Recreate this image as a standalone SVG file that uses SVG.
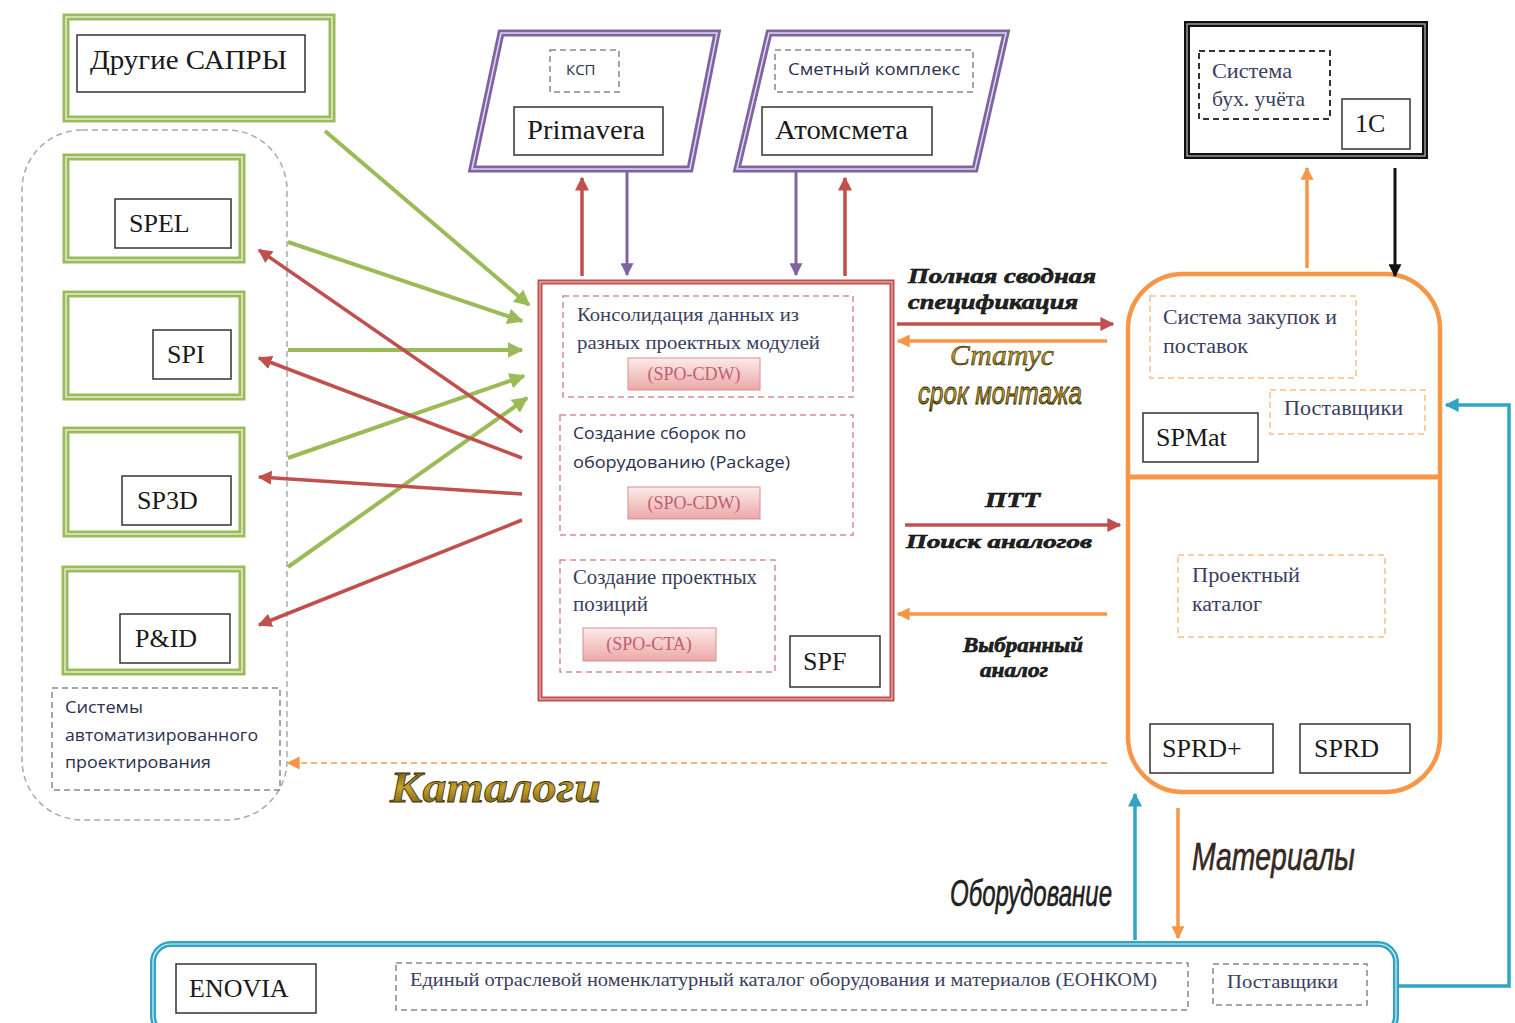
<svg xmlns="http://www.w3.org/2000/svg" width="1515" height="1023" viewBox="0 0 1515 1023">
<style>
.serif{font-family:"Liberation Serif","Times New Roman",serif;fill:#1a1a1a}
.sans{font-family:"Open Sans","Liberation Sans",sans-serif;fill:#2a3050}
.box{fill:#fff;stroke:#333;stroke-width:1.5}
.dgray{fill:none;stroke:#888;stroke-width:1.5;stroke-dasharray:6 4}
.dpink{fill:none;stroke:#d8889a;stroke-width:1.5;stroke-dasharray:6 4}
.dorange{fill:none;stroke:#f5c08a;stroke-width:1.5;stroke-dasharray:6 4}
.dblack{fill:none;stroke:#333;stroke-width:2;stroke-dasharray:6 4}
.g{stroke:#9bbb59;stroke-width:4;fill:none}
.r{stroke:#c0504d;stroke-width:3.5;fill:none}
.p{stroke:#8064a2;stroke-width:3;fill:none}
.o{stroke:#f79646;stroke-width:3.5;fill:none}
.t{stroke:#31a3c4;stroke-width:3.5;fill:none}
.k{stroke:#111;stroke-width:3;fill:none}
.lbl{font-family:"Liberation Serif",serif;font-style:italic;font-weight:bold;fill:#222;stroke:#111;stroke-width:0.6}
.btn{fill:url(#pinkg);stroke:#d89090;stroke-width:1}
.btxt{font-family:"Liberation Serif",serif;font-size:18px;fill:#c06070}
.in{font-family:"Liberation Serif",serif;fill:#3a4060}
</style>
<defs>
<linearGradient id="pinkg" x1="0" y1="0" x2="0" y2="1"><stop offset="0" stop-color="#fdeaea"/><stop offset="1" stop-color="#eba8a8"/></linearGradient>
<linearGradient id="gold" x1="0" y1="0" x2="0" y2="1"><stop offset="0" stop-color="#4a4010"/><stop offset="0.5" stop-color="#c9a227"/><stop offset="1" stop-color="#5a4a10"/></linearGradient>
<marker id="mg" viewBox="0 0 10 10" refX="9" refY="5" markerWidth="16" markerHeight="16" markerUnits="userSpaceOnUse" orient="auto"><path d="M0,0 L10,5 L0,10 z" fill="#9bbb59"/></marker>
<marker id="mr" viewBox="0 0 10 10" refX="9" refY="5" markerWidth="14" markerHeight="14" markerUnits="userSpaceOnUse" orient="auto"><path d="M0,0 L10,5 L0,10 z" fill="#c0504d"/></marker>
<marker id="mp" viewBox="0 0 10 10" refX="9" refY="5" markerWidth="13" markerHeight="13" markerUnits="userSpaceOnUse" orient="auto"><path d="M0,0 L10,5 L0,10 z" fill="#8064a2"/></marker>
<marker id="mo" viewBox="0 0 10 10" refX="9" refY="5" markerWidth="13" markerHeight="13" markerUnits="userSpaceOnUse" orient="auto"><path d="M0,0 L10,5 L0,10 z" fill="#f79646"/></marker>
<marker id="mt" viewBox="0 0 10 10" refX="9" refY="5" markerWidth="14" markerHeight="14" markerUnits="userSpaceOnUse" orient="auto"><path d="M0,0 L10,5 L0,10 z" fill="#31a3c4"/></marker>
<marker id="mk" viewBox="0 0 10 10" refX="9" refY="5" markerWidth="13" markerHeight="13" markerUnits="userSpaceOnUse" orient="auto"><path d="M0,0 L10,5 L0,10 z" fill="#111"/></marker>
</defs>
<rect width="1515" height="1023" fill="#fff"/>

<g id="cad-group">
<rect x="22" y="130" width="265" height="690" rx="60" fill="none" stroke="#aaa" stroke-width="1.5" stroke-dasharray="6 4"/>
<rect x="52" y="688" width="228" height="102" class="dgray"/>
<text class="sans" font-size="17"><tspan x="65" y="713" textLength="78" lengthAdjust="spacingAndGlyphs">Системы</tspan><tspan x="65" y="741" textLength="193" lengthAdjust="spacingAndGlyphs">автоматизированного</tspan><tspan x="65" y="768" textLength="146" lengthAdjust="spacingAndGlyphs">проектирования</tspan></text>
</g>

<g id="other-cad">
<rect x="66" y="17" width="266" height="102" fill="#fff" stroke="#9bbb59" stroke-width="7"/>
<rect x="66" y="17" width="266" height="102" fill="none" stroke="#e4edd2" stroke-width="1.5"/>
<rect x="77" y="35" width="228" height="57" class="box"/>
<text x="90" y="69" class="serif" font-size="27" textLength="197" lengthAdjust="spacingAndGlyphs">Другие САПРЫ</text>
</g>

<g id="spel">
<rect x="66" y="157" width="176" height="103" fill="#fff" stroke="#9bbb59" stroke-width="7"/>
<rect x="66" y="157" width="176" height="103" fill="none" stroke="#e4edd2" stroke-width="1.5"/>
<rect x="115" y="199" width="116" height="49" class="box"/>
<text x="129" y="232" class="serif" font-size="26">SPEL</text>
</g>
<g id="spi">
<rect x="66" y="294" width="176" height="103" fill="#fff" stroke="#9bbb59" stroke-width="7"/>
<rect x="66" y="294" width="176" height="103" fill="none" stroke="#e4edd2" stroke-width="1.5"/>
<rect x="153" y="330" width="78" height="49" class="box"/>
<text x="167" y="363" class="serif" font-size="26">SPI</text>
</g>
<g id="sp3d">
<rect x="66" y="430" width="176" height="104" fill="#fff" stroke="#9bbb59" stroke-width="7"/>
<rect x="66" y="430" width="176" height="104" fill="none" stroke="#e4edd2" stroke-width="1.5"/>
<rect x="122" y="476" width="109" height="49" class="box"/>
<text x="137" y="509" class="serif" font-size="26">SP3D</text>
</g>
<g id="pid">
<rect x="65" y="569" width="177" height="103" fill="#fff" stroke="#9bbb59" stroke-width="7"/>
<rect x="65" y="569" width="177" height="103" fill="none" stroke="#e4edd2" stroke-width="1.5"/>
<rect x="120" y="614" width="110" height="49" class="box"/>
<text x="135" y="647" class="serif" font-size="26">P&amp;ID</text>
</g>

<g id="primavera">
<polygon points="501,33 717,33 690,169 472,169" fill="#fff" stroke="#8064a2" stroke-width="7"/>
<polygon points="501,33 717,33 690,169 472,169" fill="none" stroke="#e0d8ec" stroke-width="1.5"/>
<rect x="550" y="50" width="69" height="42" class="dgray"/>
<text x="566" y="75" class="sans" font-size="15">КСП</text>
<rect x="514" y="107" width="149" height="48" class="box"/>
<text x="527" y="139" class="serif" font-size="27" textLength="118" lengthAdjust="spacingAndGlyphs">Primavera</text>
</g>
<g id="atomsmeta">
<polygon points="769,33 1006,33 975,169 737,169" fill="#fff" stroke="#8064a2" stroke-width="7"/>
<polygon points="769,33 1006,33 975,169 737,169" fill="none" stroke="#e0d8ec" stroke-width="1.5"/>
<rect x="775" y="50" width="198" height="42" class="dgray"/>
<text x="788" y="75" class="sans" font-size="17" textLength="172" lengthAdjust="spacingAndGlyphs">Сметный комплекс</text>
<rect x="762" y="107" width="170" height="48" class="box"/>
<text x="775" y="139" class="serif" font-size="27" textLength="133" lengthAdjust="spacingAndGlyphs">Атомсмета</text>
</g>

<g id="one-c">
<rect x="1187" y="24" width="238" height="132" fill="#fff" stroke="#111" stroke-width="6"/>
<rect x="1187" y="24" width="238" height="132" fill="none" stroke="#bbb" stroke-width="1.2"/>
<rect x="1199" y="51" width="131" height="68" class="dblack"/>
<text class="in" font-size="21"><tspan x="1212" y="78" textLength="80" lengthAdjust="spacingAndGlyphs">Система</tspan><tspan x="1212" y="106" textLength="93" lengthAdjust="spacingAndGlyphs">бух. учёта</tspan></text>
<rect x="1342" y="99" width="68" height="50" class="box"/>
<text x="1355" y="132" class="serif" font-size="26">1C</text>
</g>

<g id="spf">
<rect x="540" y="282" width="352" height="417" fill="#fff" stroke="#c0504d" stroke-width="5"/>
<rect x="540" y="282" width="352" height="417" fill="none" stroke="#f0d0d0" stroke-width="1"/>
<rect x="563" y="296" width="290" height="101" class="dpink"/>
<text class="in" font-size="19"><tspan x="577" y="321" textLength="222" lengthAdjust="spacingAndGlyphs">Консолидация данных из</tspan><tspan x="577" y="349" textLength="243" lengthAdjust="spacingAndGlyphs">разных проектных модулей</tspan></text>
<rect x="628" y="358" width="132" height="32" class="btn"/>
<text x="694" y="380" text-anchor="middle" class="btxt">(SPO-CDW)</text>
<rect x="560" y="415" width="293" height="120" class="dpink"/>
<text class="sans" font-size="17"><tspan x="573" y="439" textLength="173" lengthAdjust="spacingAndGlyphs">Создание сборок по</tspan><tspan x="573" y="468" textLength="217" lengthAdjust="spacingAndGlyphs">оборудованию (Package)</tspan></text>
<rect x="628" y="487" width="132" height="32" class="btn"/>
<text x="694" y="509" text-anchor="middle" class="btxt">(SPO-CDW)</text>
<rect x="560" y="560" width="215" height="112" class="dpink"/>
<text class="in" font-size="20"><tspan x="573" y="584" textLength="184" lengthAdjust="spacingAndGlyphs">Создание проектных</tspan><tspan x="573" y="611" textLength="75" lengthAdjust="spacingAndGlyphs">позиций</tspan></text>
<rect x="583" y="628" width="133" height="33" class="btn"/>
<text x="649" y="650" text-anchor="middle" class="btxt">(SPO-CTA)</text>
<rect x="790" y="636" width="90" height="51" class="box"/>
<text x="803" y="670" class="serif" font-size="26">SPF</text>
</g>

<g id="spmat">
<rect x="1128" y="274" width="312" height="518" rx="55" fill="#fff" stroke="#f79646" stroke-width="4.5"/>
<line x1="1128" y1="477" x2="1440" y2="477" stroke="#f79646" stroke-width="5"/>
<rect x="1150" y="296" width="206" height="82" class="dorange"/>
<text class="in" font-size="20"><tspan x="1163" y="324" textLength="174" lengthAdjust="spacingAndGlyphs">Система закупок и</tspan><tspan x="1163" y="353" textLength="85" lengthAdjust="spacingAndGlyphs">поставок</tspan></text>
<rect x="1270" y="390" width="155" height="44" class="dorange"/>
<text x="1284" y="415" class="in" font-size="20" textLength="119" lengthAdjust="spacingAndGlyphs">Поставщики</text>
<rect x="1143" y="413" width="115" height="49" class="box"/>
<text x="1156" y="446" class="serif" font-size="26">SPMat</text>
</g>
<g id="sprd">
<rect x="1178" y="555" width="207" height="82" class="dorange"/>
<text class="in" font-size="20"><tspan x="1192" y="582" textLength="108" lengthAdjust="spacingAndGlyphs">Проектный</tspan><tspan x="1192" y="611" textLength="70" lengthAdjust="spacingAndGlyphs">каталог</tspan></text>
<rect x="1150" y="724" width="123" height="49" class="box"/>
<text x="1162" y="757" class="serif" font-size="26">SPRD+</text>
<rect x="1300" y="724" width="110" height="49" class="box"/>
<text x="1314" y="757" class="serif" font-size="26">SPRD</text>
</g>

<g id="enovia">
<rect x="153" y="944" width="1243" height="90" rx="18" fill="#fff" stroke="#31a3c4" stroke-width="6"/>
<rect x="153" y="944" width="1243" height="90" rx="18" fill="none" stroke="#d8f0f6" stroke-width="1.2"/>
<rect x="176" y="964" width="140" height="49" class="box"/>
<text x="189" y="997" class="serif" font-size="26">ENOVIA</text>
<rect x="396" y="963" width="792" height="47" class="dgray"/>
<text x="410" y="986" class="in" font-size="19" textLength="747" lengthAdjust="spacingAndGlyphs">Единый отраслевой номенклатурный каталог оборудования и материалов (ЕОНКОМ)</text>
<rect x="1213" y="964" width="154" height="41" class="dgray"/>
<text x="1227" y="988" class="in" font-size="19" textLength="111" lengthAdjust="spacingAndGlyphs">Поставщики</text>
</g>

<g id="connectors">
<line x1="325" y1="131" x2="529" y2="305" class="g" marker-end="url(#mg)"/>
<line x1="288" y1="242" x2="522" y2="321" class="g" marker-end="url(#mg)"/>
<line x1="288" y1="350" x2="522" y2="350" class="g" marker-end="url(#mg)"/>
<line x1="288" y1="458" x2="524" y2="376" class="g" marker-end="url(#mg)"/>
<line x1="288" y1="567" x2="527" y2="398" class="g" marker-end="url(#mg)"/>
<line x1="522" y1="432" x2="259" y2="250" class="r" marker-end="url(#mr)"/>
<line x1="522" y1="458" x2="259" y2="358" class="r" marker-end="url(#mr)"/>
<line x1="522" y1="494" x2="259" y2="477" class="r" marker-end="url(#mr)"/>
<line x1="522" y1="520" x2="259" y2="625" class="r" marker-end="url(#mr)"/>

<line x1="582" y1="276" x2="582" y2="178" class="r" marker-end="url(#mr)"/>
<line x1="627" y1="171" x2="627" y2="275" class="p" marker-end="url(#mp)"/>
<line x1="796" y1="171" x2="796" y2="275" class="p" marker-end="url(#mp)"/>
<line x1="845" y1="276" x2="845" y2="178" class="r" marker-end="url(#mr)"/>

<line x1="1307" y1="268" x2="1307" y2="168" class="o" marker-end="url(#mo)"/>
<line x1="1395" y1="168" x2="1395" y2="276" class="k" marker-end="url(#mk)"/>

<line x1="897" y1="324" x2="1113" y2="324" class="r" marker-end="url(#mr)"/>
<line x1="1107" y1="341" x2="898" y2="341" class="o" marker-end="url(#mo)"/>
<line x1="905" y1="525" x2="1120" y2="525" class="r" marker-end="url(#mr)"/>
<line x1="1107" y1="614" x2="898" y2="614" class="o" marker-end="url(#mo)"/>

<line x1="1107" y1="763" x2="288" y2="763" stroke="#f5b27a" stroke-width="2" stroke-dasharray="6 4" marker-end="url(#mo)"/>

<line x1="1135" y1="940" x2="1135" y2="794" class="t" marker-end="url(#mt)"/>
<line x1="1178" y1="808" x2="1178" y2="938" class="o" marker-end="url(#mo)"/>
<polyline points="1398,986 1509,986 1509,405 1446,405" class="t" marker-end="url(#mt)"/>
</g>

<g id="labels">
<text class="lbl" font-size="22"><tspan x="908" y="283" textLength="188" lengthAdjust="spacingAndGlyphs">Полная сводная</tspan><tspan x="908" y="309" textLength="170" lengthAdjust="spacingAndGlyphs">спецификация</tspan></text>
<text x="950" y="365" textLength="104" lengthAdjust="spacingAndGlyphs" font-family="Liberation Serif,serif" font-style="italic" font-size="30" fill="url(#gold)" stroke="#3a3010" stroke-width="0.6">Статус</text>
<text x="918" y="404" textLength="164" lengthAdjust="spacingAndGlyphs" font-family="Liberation Sans,sans-serif" font-style="italic" font-size="32" fill="url(#gold)" stroke="#2a2208" stroke-width="0.8">срок монтажа</text>
<text x="985" y="507" textLength="55" lengthAdjust="spacingAndGlyphs" class="lbl" font-size="20">ПТТ</text>
<text x="906" y="548" class="lbl" font-size="19" textLength="186" lengthAdjust="spacingAndGlyphs">Поиск аналогов</text>
<text class="lbl" font-size="20"><tspan x="963" y="652" textLength="120" lengthAdjust="spacingAndGlyphs">Выбранный</tspan><tspan x="980" y="677" textLength="68" lengthAdjust="spacingAndGlyphs">аналог</tspan></text>
<text x="390" y="802" textLength="211" lengthAdjust="spacingAndGlyphs" font-family="Liberation Serif,serif" font-style="italic" font-weight="bold" font-size="44" fill="url(#gold)" stroke="#3a3010" stroke-width="0.8">Каталоги</text>
<text x="950" y="906" textLength="162" lengthAdjust="spacingAndGlyphs" font-family="Liberation Sans,sans-serif" font-style="italic" font-size="36" fill="#222" stroke="#111" stroke-width="0.5">Оборудование</text>
<text x="1192" y="870" textLength="163" lengthAdjust="spacingAndGlyphs" font-family="Liberation Sans,sans-serif" font-style="italic" font-size="38" fill="#3a2a22" stroke="#1a1a1a" stroke-width="0.5">Материалы</text>
</g>
</svg>
